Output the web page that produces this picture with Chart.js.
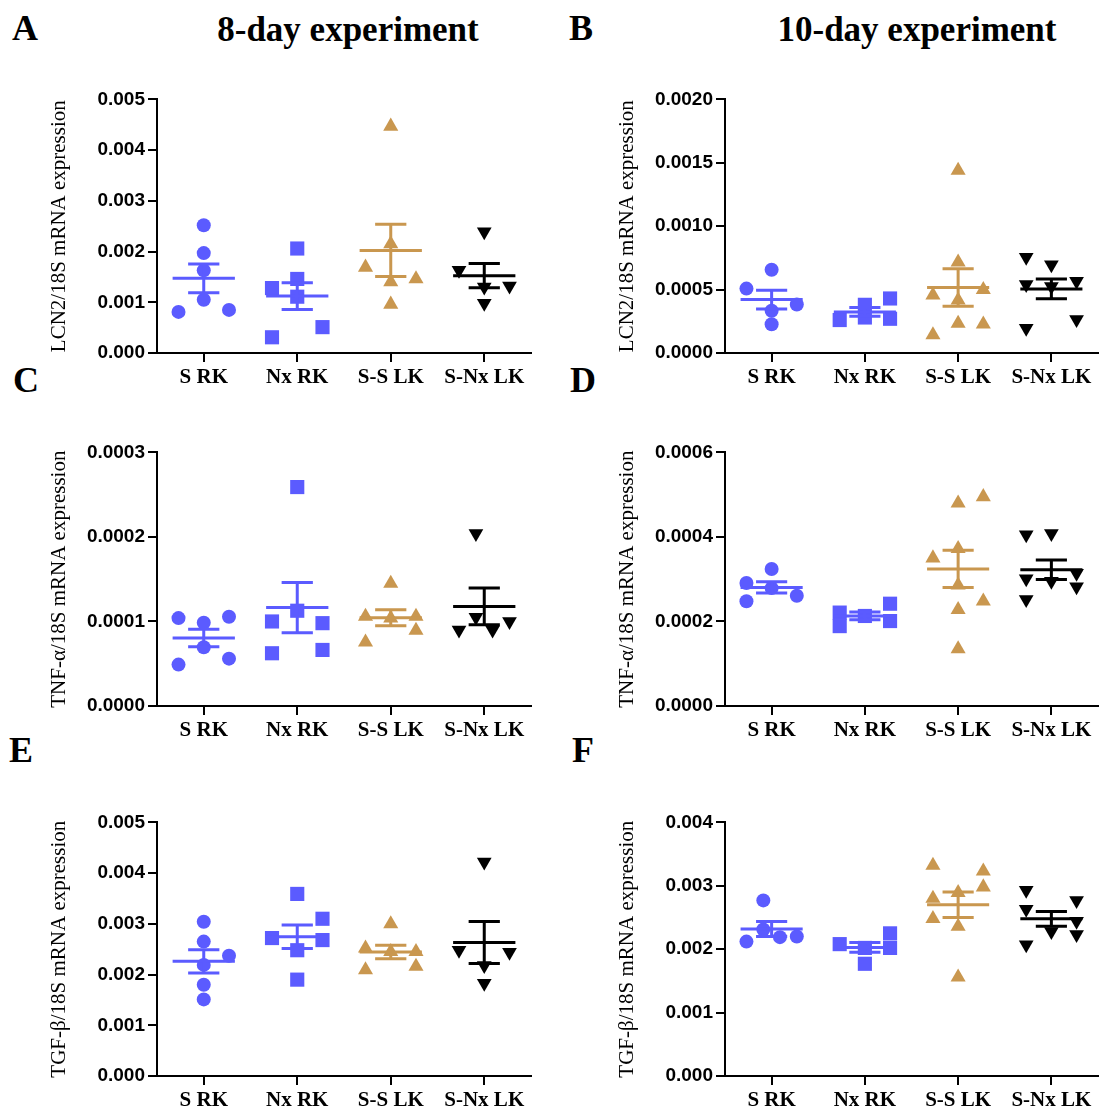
<!DOCTYPE html>
<html>
<head>
<meta charset="utf-8">
<script src="https://cdn.jsdelivr.net/npm/chart.js@4.4.1/dist/chart.umd.min.js"></script>
<style>
  body { margin: 0; width: 1108px; height: 1109px; overflow: hidden; background: #fff; position: relative; }
  canvas { position: absolute; }
  .lbl { position: absolute; font: bold 36px 'Liberation Serif', serif; line-height: 1; color: #000; }
  .ttl { position: absolute; font: bold 35px 'Liberation Serif', serif; line-height: 1; color: #000; width: 400px; text-align: center; }
</style>
</head>
<body>
<div class="lbl" style="left:12px;top:10px">A</div>
<div class="lbl" style="left:569px;top:10px">B</div>
<div class="lbl" style="left:13px;top:362px">C</div>
<div class="lbl" style="left:570px;top:362px">D</div>
<div class="lbl" style="left:9px;top:732px">E</div>
<div class="lbl" style="left:572px;top:732px">F</div>
<div class="ttl" style="left:148px;top:12px">8-day experiment</div>
<div class="ttl" style="left:717px;top:12px">10-day experiment</div>

<canvas id="chartA" width="496" height="313" style="left:45px;top:85px"></canvas>
<canvas id="chartB" width="495" height="313" style="left:613px;top:85px"></canvas>
<canvas id="chartC" width="496" height="313" style="left:45px;top:438px"></canvas>
<canvas id="chartD" width="495" height="313" style="left:613px;top:438px"></canvas>
<canvas id="chartE" width="496" height="313" style="left:45px;top:808px"></canvas>
<canvas id="chartF" width="495" height="313" style="left:613px;top:808px"></canvas>

<script>
const groups = ['S RK', 'Nx RK', 'S-S LK', 'S-Nx LK'];

// A: LCN2, 8-day
const lcn2Day8 = [
  [0.00252, 0.00197, 0.00163, 0.00105, 0.00081, 0.00085],
  [0.00206, 0.00146, 0.00128, 0.00111, 0.00051, 0.00031],
  [0.00447, 0.00215, 0.00169, 0.00140, 0.00146, 0.00096],
  [0.00239, 0.00163, 0.00130, 0.00132, 0.00098]
];
// B: LCN2, 10-day
const lcn2Day10 = [
  [0.000656, 0.000508, 0.000383, 0.000333, 0.000227],
  [0.00026, 0.00038, 0.00028, 0.00043, 0.00027],
  [0.00144, 0.000716, 0.000456, 0.00050, 0.000417, 0.000234, 0.000227, 0.000143],
  [0.000755, 0.00054, 0.000195, 0.000695, 0.000525, 0.000565, 0.000265]
];
// C: TNF-a, 8-day
const tnfDay8 = [
  [0.000104, 0.000049, 0.0000985, 0.0000695, 0.0001056, 0.000056],
  [0.000259, 0.0001127, 0.000100, 0.0000624, 0.000098, 0.0000663],
  [0.000145, 0.000104, 0.000106, 0.0000756, 0.000106, 0.0000893],
  [0.000204, 0.000105, 0.000090, 0.000090, 0.000100]
];
// D: TNF-a, 10-day
const tnfDay10 = [
  [0.000291, 0.000248, 0.000324, 0.000279, 0.000261],
  [0.000221, 0.000189, 0.000213, 0.000242, 0.000201],
  [0.000350, 0.000480, 0.000372, 0.000286, 0.000228, 0.000135, 0.000495, 0.000248],
  [0.000405, 0.000301, 0.000252, 0.000408, 0.000295, 0.000314, 0.000282]
];
// E: TGF-b, 8-day
const tgfDay8 = [
  [0.00304, 0.00265, 0.00219, 0.00180, 0.00151, 0.00237],
  [0.00359, 0.00248, 0.00190, 0.00272, 0.00310, 0.00268],
  [0.00300, 0.00245, 0.00252, 0.00209, 0.00245, 0.00216],
  [0.00422, 0.00218, 0.00183, 0.00248, 0.00244]
];
// F: TGF-b, 10-day
const tgfDay10 = [
  [0.00277, 0.00231, 0.00212, 0.00219, 0.00220],
  [0.00208, 0.00202, 0.00177, 0.00225, 0.00202],
  [0.00332, 0.00280, 0.00248, 0.00289, 0.00236, 0.00156, 0.00323, 0.00298],
  [0.00293, 0.00263, 0.00207, 0.00228, 0.00277, 0.00244, 0.00223]
];

// horizontal spread of the dots (in dot widths), same order as the values
const spreadA = [[0,0,0,0,-1,1], [0,0,-1,0,1,-1], [0,0,-1,0,1,0], [0,-1,0,1,0]];
const spreadB = [[0,-1,1,0,0], [-1,0,0,1,1], [0,0,-1,1,0,0,1,-1], [-1,-1,-1,0,0,1,1]];
const spreadC = [[-1,-1,0,0,1,1], [0,0,-1,-1,1,1], [0,0,-1,-1,1,1], [-0.33,-0.33,-1,0.33,1]];
const spreadD = [[-1,-1,0,0,1], [-1,-1,0,1,1], [-1,0,0,0,0,0,1,1], [-1,-1,-1,0,0,1,1]];
const spreadE = [[0,0,0,0,0,1], [0,0,0,-1,1,1], [0,0,-1,-1,1,1], [0,0,0,-1,1]];
const spreadF = [[-0.33,-0.33,-1,0.33,1], [-1,0,0,1,1], [-1,-1,-1,0,0,0,1,1], [-1,-1,-1,0,1,1,1]];

const BLUE = '#5b5bff';
const TAN = '#c9974f';
const groupStyles = [
  { color: BLUE, pointStyle: 'circle', radius: 7, rotation: 0 },
  { color: BLUE, pointStyle: 'rect', radius: 10, rotation: 0 },
  { color: TAN, pointStyle: 'triangle', radius: 8.7, rotation: 0 },
  { color: '#000', pointStyle: 'triangle', radius: 8.5, rotation: 180 }
];
const SLOT = 0.27;

// mean line and SEM whiskers for every group
const meanSem = {
  id: 'meanSem',
  afterDatasetsDraw(chart) {
    const { ctx, scales: { x, y } } = chart;
    chart.data.datasets.forEach((ds, i) => {
      const vals = ds.data.map(p => p.y);
      const n = vals.length;
      const m = vals.reduce((a, b) => a + b, 0) / n;
      const sd = Math.sqrt(vals.reduce((a, b) => a + (b - m) ** 2, 0) / (n - 1));
      const se = sd / Math.sqrt(n);
      const cx = x.getPixelForValue(i);
      const wMean = x.getPixelForValue(i + 0.333) - cx;
      const wCap = x.getPixelForValue(i + 0.167) - cx;
      const yM = y.getPixelForValue(m);
      const yHi = y.getPixelForValue(m + se);
      const yLo = y.getPixelForValue(m - se);
      ctx.save();
      ctx.strokeStyle = ds.backgroundColor;
      ctx.lineWidth = 3;
      ctx.beginPath();
      ctx.moveTo(cx - wMean, yM); ctx.lineTo(cx + wMean, yM);
      ctx.moveTo(cx, yHi); ctx.lineTo(cx, yLo);
      ctx.moveTo(cx - wCap, yHi); ctx.lineTo(cx + wCap, yHi);
      ctx.moveTo(cx - wCap, yLo); ctx.lineTo(cx + wCap, yLo);
      ctx.stroke();
      ctx.restore();
    });
  }
};

function makePanel(id, values, spread, yMax, yStep, decimals, yTitle) {
  const datasets = values.map((vals, i) => {
    const st = groupStyles[i];
    return {
      label: groups[i],
      data: vals.map((v, k) => ({ x: i + spread[i][k] * SLOT, y: v })),
      backgroundColor: st.color,
      borderColor: st.color,
      borderWidth: 0,
      pointStyle: st.pointStyle,
      pointRadius: st.radius,
      pointRotation: st.rotation,
      clip: false
    };
  });

  new Chart(document.getElementById(id), {
    type: 'scatter',
    data: { datasets },
    plugins: [meanSem],
    options: {
      responsive: false,
      animation: false,
      layout: { padding: { top: 13, left: 0, right: 0, bottom: 0 } },
      plugins: { legend: { display: false }, tooltip: { enabled: false } },
      scales: {
        x: {
          type: 'linear',
          min: -0.5,
          max: 3.5,
          afterBuildTicks: (s) => { s.ticks = groups.map((g, i) => ({ value: i })); },
          afterFit: (s) => { s.height = 45; },
          grid: { drawOnChartArea: false, color: '#000', lineWidth: 2, tickLength: 9 },
          border: { display: true, color: '#000', width: 2 },
          ticks: {
            autoSkip: false,
            maxRotation: 0,
            padding: 3,
            color: '#000',
            font: { family: 'Liberation Serif', size: 21, weight: 'bold' },
            callback: (v) => groups[v]
          }
        },
        y: {
          min: 0,
          max: yMax,
          afterFit: (s) => { s.width = 112; },
          grid: { drawOnChartArea: false, color: '#000', lineWidth: 2, tickLength: 9 },
          border: { display: true, color: '#000', width: 2 },
          ticks: {
            stepSize: yStep,
            padding: 3,
            color: '#000',
            font: { family: 'Liberation Sans', size: 19, weight: 'bold' },
            callback: (v) => v.toFixed(decimals)
          },
          title: {
            display: true,
            text: yTitle,
            color: '#000',
            padding: { top: 2, bottom: 2 },
            font: { family: 'Liberation Serif', size: 21, weight: 'normal' }
          }
        }
      }
    }
  });
}

makePanel('chartA', lcn2Day8, spreadA, 0.005, 0.001, 3, 'LCN2/18S mRNA expression');
makePanel('chartB', lcn2Day10, spreadB, 0.002, 0.0005, 4, 'LCN2/18S mRNA expression');
makePanel('chartC', tnfDay8, spreadC, 0.0003, 0.0001, 4, 'TNF-α/18S mRNA expression');
makePanel('chartD', tnfDay10, spreadD, 0.0006, 0.0002, 4, 'TNF-α/18S mRNA expression');
makePanel('chartE', tgfDay8, spreadE, 0.005, 0.001, 3, 'TGF-β/18S mRNA expression');
makePanel('chartF', tgfDay10, spreadF, 0.004, 0.001, 3, 'TGF-β/18S mRNA expression');
</script>
</body>
</html>
